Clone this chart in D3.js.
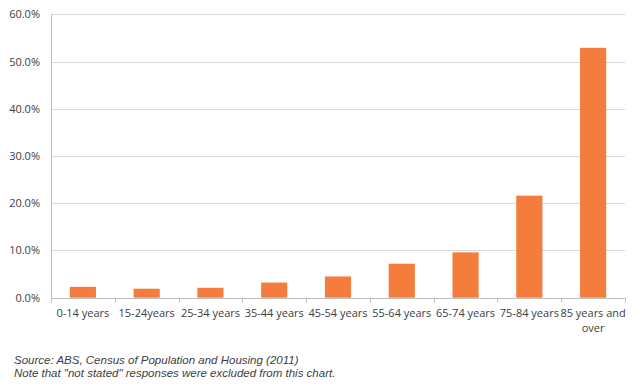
<!DOCTYPE html>
<html><head><meta charset="utf-8">
<script src="https://cdn.jsdelivr.net/npm/d3@7"></script>
<style>
html,body{margin:0;padding:0;background:#fff;}
svg{display:block;}
text{font-family:"Open Sans","Noto Sans",sans-serif;}
</style></head>
<body>
<svg id="chart" width="640" height="391"></svg>
<script>
const categories = ["0-14 years","15-24years","25-34 years","35-44 years","45-54 years","55-64 years","65-74 years","75-84 years","85 years and over"];
const values = [2.3, 1.9, 2.1, 3.2, 4.5, 7.2, 9.6, 21.6, 52.9];
const yTicks = [0,10,20,30,40,50,60];
const notes = ["Source:  ABS, Census of Population and Housing (2011)", "Note that \"not stated\" responses were excluded from this chart."];

(function(){
const svg = d3.select("#chart");
const pL = 51, pR = 625, pT = 14.3, pB = 297.7;
const x = d3.scaleBand().domain(categories).range([pL, pR]).paddingInner(0.59).paddingOuter(0.295);
const y = d3.scaleLinear().domain([0,60]).range([pB, pT]);

svg.append("g").selectAll("line").data(yTicks.filter(d=>d>0)).join("line")
  .attr("x1", pL).attr("x2", pR)
  .attr("y1", d=>Math.round(y(d))+0.5).attr("y2", d=>Math.round(y(d))+0.5)
  .attr("stroke", "#d9d9d9").attr("stroke-width", 1);

svg.append("g").selectAll("text").data(yTicks).join("text")
  .attr("x", 40).attr("y", d=>y(d)+4)
  .attr("text-anchor","end").attr("font-size", 11).attr("fill","#404040")
  .text(d=>d.toFixed(1)+"%");

svg.append("line").attr("x1", pL+0.5).attr("x2", pL+0.5).attr("y1", pT).attr("y2", pB)
  .attr("stroke","#bfbfbf");

svg.append("g").selectAll("rect").data(categories).join("rect")
  .attr("x", d=>x(d)).attr("width", x.bandwidth())
  .attr("y", (d,i)=>y(values[i])).attr("height", (d,i)=>pB - y(values[i]))
  .attr("fill","#f47c3c");

const bounds = d3.range(categories.length+1).map(i=>pL + i*(pR-pL)/categories.length);
svg.append("line").attr("x1", pL).attr("x2", pR).attr("y1", Math.round(pB)+0.5).attr("y2", Math.round(pB)+0.5)
  .attr("stroke","#bfbfbf");
svg.append("g").selectAll("line").data(bounds).join("line")
  .attr("x1", d=>Math.round(d)+0.5).attr("x2", d=>Math.round(d)+0.5)
  .attr("y1", pB).attr("y2", pB+5).attr("stroke","#bfbfbf");

const lbl = svg.append("g").selectAll("text").data(categories).join("text")
  .attr("text-anchor","middle").attr("font-size", 11).attr("fill","#404040")
  .attr("x", d=>x(d)+x.bandwidth()/2).attr("y", 317);
lbl.each(function(d){
  const t = d3.select(this);
  if (d === "85 years and over") {
    t.append("tspan").attr("x", x(d)+x.bandwidth()/2).attr("dy",0).text("85 years and");
    t.append("tspan").attr("x", x(d)+x.bandwidth()/2).attr("dy",15).text("over");
  } else t.text(d);
});

svg.append("g").selectAll("text").data(notes).join("text")
  .attr("x", 14).attr("y", (d,i)=>363.5 + i*13.5)
  .style("font-family", "'Liberation Sans', Arial, sans-serif")
  .attr("font-size", 11.5).attr("font-style","italic").attr("fill","#404040")
  .text(d=>d);
})();
</script>
</body></html>
